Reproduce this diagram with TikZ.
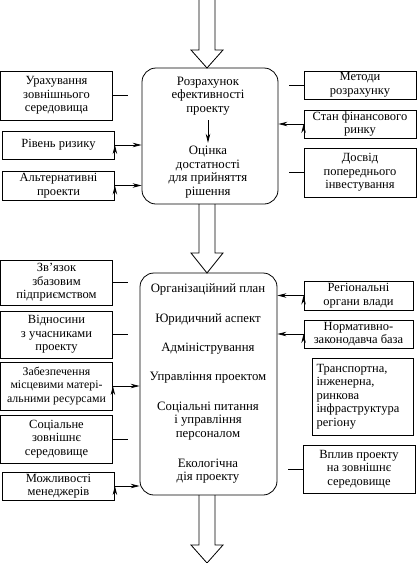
\documentclass[tikz,border=0pt]{standalone}
\usepackage{fontspec}
\setmainfont{Liberation Serif}
\usetikzlibrary{arrows.meta}
\begin{document}
\begin{tikzpicture}[x=1pt,y=-1pt,
    box/.style={draw=black, line width=0.8pt, align=center, inner sep=1pt,
      font=\fontsize{12.5}{13.6}\selectfont},
    txt/.style={align=center, inner sep=1pt, font=\fontsize{12.8}{13.6}\selectfont},
    arr/.style={draw=black, line width=0.8pt, -{Stealth[length=9pt,width=4.5pt]}}]
  \useasboundingbox (0,0) rectangle (417,563);
  \foreach \a/\b/\c in {0/50/68, 204/253/273, 495/545/563}
    \draw[line width=0.8pt] (199,\a) -- (199,\b) -- (191,\b) -- (207,\c) -- (223,\b) -- (215,\b) -- (215,\a);
  \node[box, rounded corners=14pt, minimum width=136, minimum height=136] (calc) at (210,136) {};
  \node[txt] (est) at (208,96) {Розрахунок\\ефективності\\проекту};
  \node[txt] (ok) at (208,172) {Оцінка\\достатності\\для прийняття\\рішення};
  \path[arr] (est) edge[shorten <=4pt, shorten >=2pt] (ok);
  \node[box, minimum width=112, minimum height=49] (env) at (56.5,95.5) {Урахування\\зовнішнього\\середовища};
  \node[box, minimum width=112, minimum height=28] (risk) at (58.5,145) {Рівень ризику};
  \node[box, minimum width=112, minimum height=29] (alt) at (58.5,185.5) {Альтернативні\\проекти};
  \node[box, minimum width=112, minimum height=28] (meth) at (360,85) {Методи\\розрахунку};
  \node[box, minimum width=112, minimum height=28] (fin) at (360,124) {Стан фінансового\\ринку};
  \node[box, minimum width=112, minimum height=49] (exp) at (360,172.5) {Досвід\\попереднього\\інвестування};
  \coordinate (s1) at (128,95.5);
  \coordinate (s2) at (289,85);
  \coordinate (s3) at (289,172.5);
  \draw[line width=0.8pt] (env.east) -- (s1);
  \draw[line width=0.8pt] (meth.west) -- (s2);
  \draw[line width=0.8pt] (exp.west) -- (s3);
  \path[arr] (risk.east) edge (risk.east -| calc.west);
  \path[arr] (alt.east) edge (alt.east -| calc.west);
  \path[arr] (fin.west) edge (fin.west -| calc.east);
  \node[box, rounded corners=14pt, minimum width=137, minimum height=222] (org) at (208.5,384) {};
  \node[txt] (plan) at (208,289) {Організаційний план};
  \node[txt] (law) at (208,319) {Юридичний аспект};
  \node[txt] (adm) at (208,349) {Адміністрування};
  \node[txt] (pm) at (208,378) {Управління проектом};
  \node[txt] (hr) at (208,421) {Соціальні питання\\і управління\\персоналом};
  \node[txt] (ecol) at (208,471) {Екологічна\\дія проекту};
  \node[box, minimum width=112, minimum height=45] (link) at (56.5,282.5) {Зв'язок\\збазовим\\підприємством};
  \node[box, minimum width=112, minimum height=47] (rel) at (56.5,334.5) {Відносини\\з учасниками\\проекту};
  \node[box, minimum width=112, minimum height=48, font=\fontsize{11.8}{13.6}\selectfont] (res) at (56.5,386) {Забезпечення\\місцевими матері-\\альними ресурсами};
  \node[box, minimum width=112, minimum height=48] (soc) at (56.5,439) {Соціальне\\зовнішнє\\середовище};
  \node[box, minimum width=112, minimum height=28] (mgr) at (58.5,486) {Можливості\\менеджерів};
  \node[box, minimum width=109, minimum height=29] (reg) at (358.5,295.5) {Регіональні\\органи влади};
  \node[box, minimum width=109, minimum height=28] (norm) at (358.5,334) {Нормативно-\\законодавча база};
  \node[box, align=left, text width=92, minimum width=101, minimum height=77] (infra) at (362.5,396.5) {Транспортна,\\інженерна,\\ринкова\\інфраструктура\\регіону};
  \node[box, minimum width=112, minimum height=48] (eco) at (359,469) {Вплив проекту\\на зовнішнє\\середовище};
  \coordinate (s4) at (128,282.5);
  \coordinate (s5) at (128,334.5);
  \coordinate (s6) at (128,439);
  \coordinate (s7) at (288,469);
  \draw[line width=0.8pt] (link.east) -- (s4);
  \draw[line width=0.8pt] (rel.east) -- (s5);
  \draw[line width=0.8pt] (soc.east) -- (s6);
  \draw[line width=0.8pt] (eco.west) -- (s7);
  \path[arr] (res.east) edge (res.east -| org.west);
  \path[arr] (mgr.east) edge (mgr.east -| org.west);
  \path[arr] (reg.west) edge (reg.west -| org.east);
  \path[arr] (norm.west) edge (norm.west -| org.east);
\end{tikzpicture}
\end{document}
